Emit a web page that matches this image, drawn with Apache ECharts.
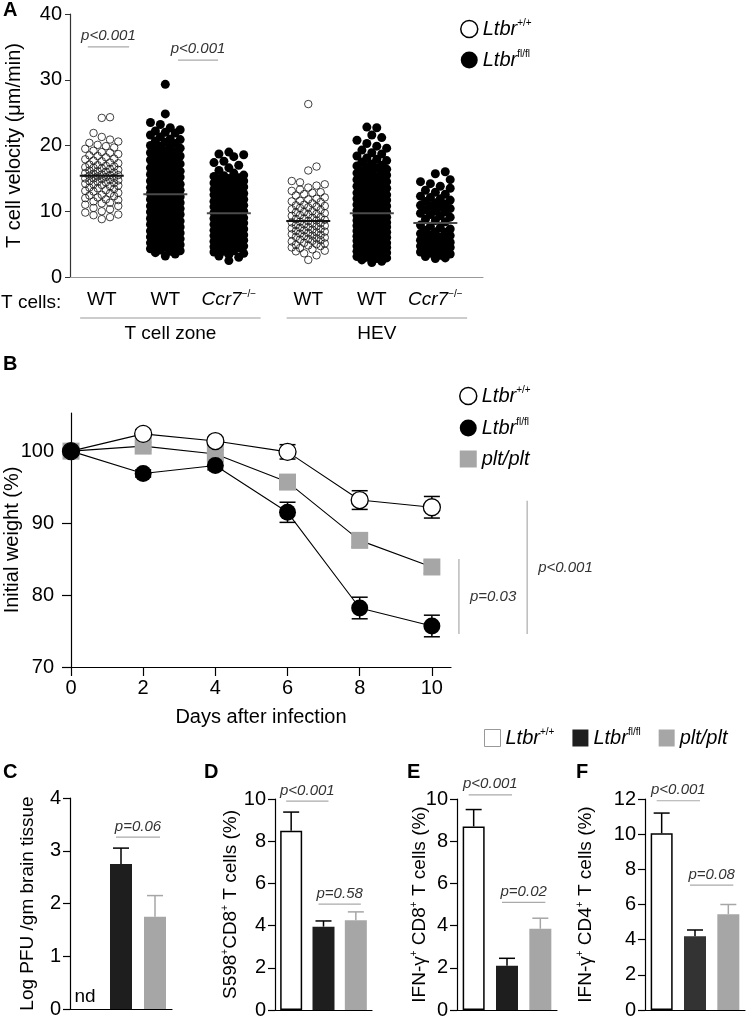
<!DOCTYPE html>
<html><head><meta charset="utf-8">
<script src="https://cdn.jsdelivr.net/npm/echarts@6/dist/echarts.min.js"></script>
<style>html,body{margin:0;padding:0;background:#fff}#c{width:747px;height:1019px}</style>
</head><body><div id="c"></div><script>
// ================= DATA =================
// ---- Panel A: T cell velocity (µm/min) ----
const velocityColumns = ['WT', 'WT', 'Ccr7', 'WT', 'WT', 'Ccr7'];
const velocityColumnGroup = [0, 0, 0, 1, 1, 1];
const velocityGroups = ['T cell zone', 'HEV'];
const velocityFilled = [false, true, true, false, true, true];
const velocityMeans = [15.4, 12.6, 9.7, 8.5, 9.7, 8.2];
const velocityTicks = [0, 10, 20, 30, 40];
const velTczWtCtrl = [24.3,24.2,21.9,21.3,20.9,20.6,20.4,20.1,19.9,19.7,19.5,19.2,19.0,18.9,18.7,18.5,18.4,18.2,18.0,17.9,17.7,17.6,17.4,17.3,17.1,17.0,16.9,16.8,16.7,16.6,16.5,16.4,16.3,16.2,16.1,16.0,15.9,15.8,15.7,15.6,15.5,15.5,15.4,15.3,15.2,15.1,15.0,15.0,14.9,14.8,14.7,14.6,14.5,14.4,14.3,14.2,14.1,14.0,13.9,13.8,13.6,13.5,13.4,13.2,13.1,13.0,12.8,12.7,12.5,12.4,12.3,12.1,12.0,11.8,11.7,11.5,11.3,11.2,11.0,10.8,10.5,10.3,10.0,9.8,9.5,9.4,9.1,8.8];
const velTczWtKo = [3.2,3.5,3.7,3.9,4.0,4.1,4.3,4.4,4.5,4.7,4.8,4.9,5.0,5.2,5.3,5.5,5.6,5.8,5.9,6.0,6.1,6.3,6.4,6.6,6.7,6.8,6.9,7.0,7.2,7.3,7.5,7.6,7.8,7.9,8.0,8.1,8.2,8.4,8.5,8.7,8.8,8.9,9.0,9.2,9.3,9.5,9.6,9.8,9.9,10.0,10.1,10.3,10.4,10.5,10.7,10.8,10.9,11.0,11.2,11.3,11.5,11.6,11.8,11.9,12.0,12.1,12.2,12.4,12.5,12.7,12.8,12.9,13.0,13.2,13.3,13.5,13.6,13.8,13.9,14.0,14.1,14.3,14.5,14.6,14.8,14.9,15.0,15.2,15.3,15.5,15.6,15.8,15.9,16.0,16.1,16.3,16.5,16.6,16.8,16.9,17.0,17.2,17.4,17.6,17.8,17.9,18.0,18.2,18.4,18.6,18.8,18.9,19.0,19.2,19.4,19.6,19.8,19.9,20.0,20.3,20.5,20.7,20.9,21.0,21.3,21.6,21.9,22.0,22.2,22.4,22.7,23.2,23.5,24.8,29.3];
const velTczCcr7Ko = [2.5,3.0,3.2,3.4,3.6,3.8,3.9,4.0,4.1,4.3,4.4,4.6,4.7,4.8,4.9,5.0,5.1,5.3,5.4,5.6,5.7,5.8,5.9,6.0,6.2,6.3,6.4,6.5,6.7,6.8,6.9,7.0,7.1,7.3,7.4,7.5,7.7,7.8,7.9,8.0,8.2,8.3,8.4,8.6,8.7,8.8,8.9,9.0,9.1,9.2,9.4,9.5,9.7,9.8,9.9,10.0,10.2,10.3,10.4,10.6,10.7,10.8,10.9,11.0,11.1,11.3,11.4,11.5,11.7,11.8,11.9,12.0,12.2,12.3,12.5,12.6,12.7,12.8,12.9,13.0,13.2,13.3,13.5,13.7,13.8,13.9,14.0,14.2,14.3,14.5,14.6,14.8,14.9,15.0,15.1,15.3,15.4,15.5,15.8,16.2,16.6,17.0,17.4,17.6,18.3,18.6,18.7,19.0];
const velHevWtCtrl = [2.6,3.3,3.6,3.9,4.0,4.2,4.4,4.5,4.7,4.8,4.9,5.0,5.1,5.2,5.4,5.5,5.6,5.7,5.8,5.9,6.0,6.1,6.2,6.3,6.4,6.5,6.6,6.7,6.8,6.9,7.0,7.1,7.2,7.3,7.4,7.5,7.6,7.7,7.8,7.9,8.0,8.1,8.2,8.3,8.4,8.5,8.6,8.7,8.8,8.9,9.0,9.1,9.3,9.4,9.5,9.6,9.7,9.8,9.9,10.0,10.2,10.3,10.5,10.6,10.7,10.8,10.9,11.0,11.2,11.4,11.5,11.6,11.8,11.9,12.1,12.4,12.6,12.8,12.9,13.1,13.3,13.6,13.9,14.1,14.4,14.6,16.2,16.8,26.3];
const velHevWtKo = [2.2,2.4,2.6,2.8,2.9,3.0,3.1,3.2,3.4,3.5,3.6,3.7,3.8,3.9,4.0,4.1,4.2,4.4,4.5,4.6,4.7,4.8,4.9,5.0,5.1,5.2,5.4,5.5,5.6,5.7,5.8,5.9,6.0,6.1,6.2,6.3,6.5,6.6,6.7,6.8,6.9,7.0,7.1,7.2,7.4,7.5,7.6,7.7,7.8,7.9,8.0,8.1,8.2,8.3,8.5,8.6,8.7,8.8,8.9,9.0,9.1,9.2,9.4,9.5,9.6,9.7,9.8,9.9,10.0,10.1,10.3,10.4,10.6,10.7,10.8,10.9,11.0,11.2,11.3,11.4,11.6,11.7,11.8,11.9,12.0,12.1,12.3,12.4,12.5,12.7,12.8,12.9,13.0,13.2,13.3,13.5,13.6,13.8,13.9,14.0,14.2,14.3,14.5,14.6,14.8,14.9,15.0,15.1,15.3,15.5,15.6,15.8,15.9,16.0,16.2,16.4,16.6,16.8,16.9,17.0,17.2,17.5,17.7,17.9,18.1,18.4,18.7,18.9,19.3,19.6,19.9,20.3,20.8,21.2,21.6,22.7,22.8];
const velHevCcr7Ko = [2.8,2.9,3.1,3.3,3.5,3.6,3.8,3.9,4.0,4.2,4.3,4.5,4.6,4.7,4.8,4.9,5.0,5.2,5.3,5.5,5.6,5.7,5.8,5.9,6.1,6.3,6.4,6.6,6.8,6.9,7.1,7.3,7.5,7.7,7.9,8.4,8.6,8.8,9.1,9.3,9.5,9.7,9.9,10.0,10.2,10.4,10.6,10.8,10.9,11.1,11.3,11.5,11.7,11.9,12.1,12.3,12.6,12.9,13.2,13.5,13.8,14.2,14.5,14.8,15.7,16.0];
const velocityValues = [velTczWtCtrl, velTczWtKo, velTczCcr7Ko, velHevWtCtrl, velHevWtKo, velHevCcr7Ko];
// p-value annotations (data coordinates of panel A)
const velocityPvals = [
  { text: 'p<0.001', x1: 0.28, x2: 0.93, y: 35.0 },
  { text: 'p<0.001', x1: 1.70, x2: 2.33, y: 33.0 }
];

// ---- Panel B: weight loss ----
const days = [0, 2, 4, 6, 8, 10];
const dayTicks = [0, 2, 4, 6, 8, 10];
const weightTicks = [70, 80, 90, 100];
const weightCtrl = [100, 102.4, 101.4, 99.9, 93.2, 92.2];
const weightCtrlErr = [0.3, 0.6, 0.5, 1.0, 1.3, 1.5];
const weightKo = [100, 96.9, 98.0, 91.5, 78.2, 75.7];
const weightKoErr = [0.3, 0.5, 0.6, 1.4, 1.5, 1.5];
const weightPlt = [100, 100.7, 99.6, 95.7, 87.6, 83.9];
const weightPltErr = [0.3, 0.5, 0.6, 0.8, 0.9, 0.9];
const weightPvals = [
  { text: 'p=0.03', x: 10.75, y1: 74.6, y2: 85.0 },
  { text: 'p<0.001', x: 12.64, y1: 74.6, y2: 93.1 }
];

// ---- Panels C-F: bars ----
const barGroups = ['Ltbr+/+', 'Ltbrfl/fl', 'plt/plt'];
const pfuMean = [null, 2.75, 1.75];
const pfuErr = [null, 0.30, 0.40];
const pfuNotDetected = [true, false, false];
const s598Mean = [8.5, 3.95, 4.25];
const s598Err = [0.88, 0.27, 0.40];
const ifnCd8Mean = [8.7, 2.1, 3.85];
const ifnCd8Err = [0.8, 0.35, 0.5];
const ifnCd4Mean = [10.05, 4.2, 5.45];
const ifnCd4Err = [1.15, 0.35, 0.55];
const pfuTicks = [0, 1, 2, 3, 4];
const pctTicks10 = [0, 2, 4, 6, 8, 10];
const pctTicks12 = [0, 2, 4, 6, 8, 10, 12];
const barPvals = [
  { panel: 0, text: 'p=0.06', a: 1, b: 2, y: 3.26 },
  { panel: 1, text: 'p<0.001', a: 0, b: 1, y: 9.9 },
  { panel: 1, text: 'p=0.58', a: 1, b: 2, y: 5.02 },
  { panel: 2, text: 'p<0.001', a: 0, b: 1, y: 10.2 },
  { panel: 2, text: 'p=0.02', a: 1, b: 2, y: 5.1 },
  { panel: 3, text: 'p<0.001', a: 0, b: 1, y: 11.9 },
  { panel: 3, text: 'p=0.08', a: 1, b: 2, y: 7.1 }
];

// ================= LAYOUT / STYLE =================
const FONT = '"Liberation Sans", Arial, Helvetica, sans-serif';
const GRIDS = [
  { left: 70, top: 14, width: 413, height: 263 },   // A
  { left: 71, top: 413, width: 380, height: 254 },  // B
  { left: 70, top: 798, width: 102, height: 211 },  // C
  { left: 275, top: 799, width: 97, height: 211 },  // D
  { left: 457, top: 799, width: 100, height: 211 }, // E
  { left: 645, top: 799, width: 100, height: 211 }  // F
].map(gr => Object.assign({ outerBoundsMode: 'none', containLabel: false }, gr));
const A_XMAX = 6.5;
const colPos = i => i + 0.5 + velocityColumnGroup[i] * 0.25;
const GRAY = '#a6a6a6';
const supRich = {
  n: { fontFamily: FONT, fontSize: 19, color: '#000', lineHeight: 22 },
  i: { fontFamily: FONT, fontSize: 19, fontStyle: 'italic', color: '#000', lineHeight: 22 },
  s: { fontFamily: FONT, fontSize: 10, color: '#000', verticalAlign: 'top', lineHeight: 10 }
};

// deterministic beeswarm layout of the values of one column
function swarm(values, center, diam, xScale, yScale, halfWidth) {
  const placed = [];
  const out = [];
  const sorted = values.slice().sort((a, b) => a - b);
  const step = diam * 0.55;
  const n = Math.floor(halfWidth / step);
  sorted.forEach((v, idx) => {
    const py = v * yScale;
    let best = 0, bestScore = -Infinity;
    const sgn = idx % 2 ? 1 : -1;
    for (let k = 0; k <= 2 * n; k++) {
      const off = k === 0 ? 0 : (k % 2 ? sgn : -sgn) * Math.ceil(k / 2) * step;
      let minD = Infinity;
      for (const p of placed) {
        if (Math.abs(p[1] - py) > diam) continue;
        const d = Math.hypot(p[0] - off, p[1] - py);
        if (d < minD) minD = d;
      }
      if (minD >= diam * 0.95) { best = off; break; }
      if (minD > bestScore + 0.01) { bestScore = minD; best = off; }
    }
    placed.push([best, py]);
    out.push([center + best / xScale, v]);
  });
  return out;
}

const gA = GRIDS[0];
const axScale = gA.width / A_XMAX, ayScale = gA.height / 40;
const openPts = [], filledPts = [];
velocityValues.forEach((vals, i) => {
  const filled = velocityFilled[i];
  const pts = swarm(vals, colPos(i), filled ? 9 : 7.5, axScale, ayScale, filled ? 17 : 17.5);
  (filled ? filledPts : openPts).push(...pts);
});
const meanData = velocityMeans.map((m, i) => [colPos(i), m, velocityFilled[i] ? 1 : 0]);

const legendNames = {
  A_open: '{i|Ltbr}{s|+/+}', A_filled: '{i|Ltbr}{s|fl/fl}',
  B_wt: '{i|Ltbr}{s|+/+}', B_fl: '{i|Ltbr}{s|fl/fl}', B_plt: '{i|plt/plt}',
  'Ltbr+/+': '{i|Ltbr}{s|+/+}', 'Ltbrfl/fl': '{i|Ltbr}{s|fl/fl}', 'plt/plt': '{i|plt/plt}'
};
const legendRich = {
  i: { fontFamily: FONT, fontSize: 20, fontStyle: 'italic', color: '#000', lineHeight: 22 },
  s: { fontFamily: FONT, fontSize: 10, color: '#000', verticalAlign: 'top', lineHeight: 10 }
};

function errBarSeries(name, data, xi, withLower, colorFn) {
  return {
    type: 'custom', name: name, xAxisIndex: xi, yAxisIndex: xi, clip: false, z: withLower ? 1 : 5,
    silent: true,
    data: data,
    renderItem: (params, api) => {
      const x = api.value(0), m = api.value(1), e = api.value(2);
      const top = api.coord([x, m + e]);
      const bot = withLower ? api.coord([x, m - e]) : api.coord([x, m]);
      const col = colorFn ? colorFn(x) : '#000';
      const st = { stroke: col, lineWidth: 1.5 };
      const ch = [
        { type: 'line', shape: { x1: top[0], y1: top[1], x2: bot[0], y2: bot[1] }, style: st },
        { type: 'line', shape: { x1: top[0] - 8, y1: top[1], x2: top[0] + 8, y2: top[1] }, style: st }
      ];
      if (withLower) ch.push({ type: 'line', shape: { x1: bot[0] - 8, y1: bot[1], x2: bot[0] + 8, y2: bot[1] }, style: st });
      return { type: 'group', children: ch };
    }
  };
}

const tickLabel = { color: '#000', fontFamily: FONT, fontSize: 20 };

// ---- axes ----
const xAxes = [
  { gridIndex: 0, type: 'value', min: 0, max: A_XMAX, splitLine: { show: false },
    axisLine: { lineStyle: { color: '#999', width: 1.2 } }, axisTick: { show: false },
    axisLabel: { customValues: velocityColumns.map((c, i) => colPos(i)), margin: 12,
      formatter: v => { const i = velocityColumns.findIndex((c, j) => Math.abs(colPos(j) - v) < 1e-6);
        return velocityColumns[i] === 'Ccr7' ? '{i|Ccr7}{s|−/−}' : '{n|' + velocityColumns[i] + '}'; },
      rich: supRich } },
  { gridIndex: 1, type: 'value', min: 0, max: 10.53, splitLine: { show: false },
    axisLine: { lineStyle: { color: '#000', width: 1.2 } },
    axisTick: { customValues: dayTicks, length: 9, lineStyle: { color: '#000', width: 1.2 } },
    axisLabel: Object.assign({ customValues: dayTicks, margin: 11 }, tickLabel),
    name: 'Days after infection', nameLocation: 'middle', nameGap: 40, nameMoveOverlap: false,
    nameTextStyle: { color: '#000', fontFamily: FONT, fontSize: 20 } }
];
const yAxes = [
  { gridIndex: 0, type: 'value', min: 0, max: 40, interval: 10, splitLine: { show: false },
    axisLine: { show: true, lineStyle: { color: '#333', width: 1.2 } },
    axisTick: { show: true, length: 5, lineStyle: { color: '#333' } },
    axisLabel: Object.assign({ margin: 8 }, tickLabel),
    name: 'T cell velocity (μm/min)', nameLocation: 'middle', nameGap: 46, nameMoveOverlap: false,
    nameTextStyle: { color: '#000', fontFamily: FONT, fontSize: 20 } },
  { gridIndex: 1, type: 'value', min: 70, max: 105.3, splitLine: { show: false },
    axisLine: { show: true, lineStyle: { color: '#000', width: 1.2 } },
    axisTick: { show: true, customValues: weightTicks, length: 9, lineStyle: { color: '#000', width: 1.2 } },
    axisLabel: Object.assign({ customValues: weightTicks, margin: 17 }, tickLabel),
    name: 'Initial weight (%)', nameLocation: 'middle', nameGap: 49, nameMoveOverlap: false,
    nameTextStyle: { color: '#000', fontFamily: FONT, fontSize: 20 } }
];
const barPanels = [
  { mean: pfuMean, err: pfuErr, max: 4, interval: 1, dark: '#1e1e1e',
    title: 'Log PFU /gm brain tissue', gap: 33 },
  { mean: s598Mean, err: s598Err, max: 10, interval: 2, dark: '#1e1e1e',
    title: '{t|S598}{s|+}{t|CD8}{s|+}{t| T cells (%)}', gap: 33 },
  { mean: ifnCd8Mean, err: ifnCd8Err, max: 10, interval: 2, dark: '#1e1e1e',
    title: '{t|IFN-γ}{s|+}{t| CD8}{s|+}{t| T cells (%)}', gap: 26 },
  { mean: ifnCd4Mean, err: ifnCd4Err, max: 12, interval: 2, dark: '#333333',
    title: '{t|IFN-γ}{s|+}{t| CD4}{s|+}{t| T cells (%)}', gap: 48 }
];
const titleRich = {
  t: { fontFamily: FONT, fontSize: 19, color: '#000', lineHeight: 22 },
  s: { fontFamily: FONT, fontSize: 10, color: '#000', verticalAlign: 'top', lineHeight: 10 }
};
barPanels.forEach((p, k) => {
  const gi = k + 2;
  xAxes.push({ gridIndex: gi, type: 'category', data: barGroups,
    axisLine: { lineStyle: { color: '#000', width: 1.2 } }, axisTick: { show: false }, axisLabel: { show: false } });
  yAxes.push({ gridIndex: gi, type: 'value', min: 0, max: p.max, interval: p.interval, splitLine: { show: false },
    axisLine: { show: true, lineStyle: { color: '#000', width: 1.2 } },
    axisTick: { show: true, length: 7, lineStyle: { color: '#000', width: 1.2 } },
    axisLabel: Object.assign({ margin: 9 }, tickLabel),
    name: p.title, nameLocation: 'middle', nameGap: p.gap, nameMoveOverlap: false,
    nameTextStyle: { color: '#000', fontFamily: FONT, fontSize: 19, rich: titleRich } });
});

// ---- series ----
const series = [
  { type: 'scatter', name: 'A_open', xAxisIndex: 0, yAxisIndex: 0, data: openPts, symbolSize: 7.5,
    itemStyle: { color: 'rgba(255,255,255,0)', borderColor: '#111', borderWidth: 0.8, opacity: 1 }, silent: true },
  { type: 'scatter', name: 'A_filled', xAxisIndex: 0, yAxisIndex: 0, data: filledPts, symbolSize: 9,
    itemStyle: { color: '#000', opacity: 1 }, silent: true },
  { type: 'custom', name: 'A_mean', xAxisIndex: 0, yAxisIndex: 0, data: meanData, z: 4, silent: true,
    renderItem: (params, api) => {
      const p = api.coord([api.value(0), api.value(1)]);
      return { type: 'line', shape: { x1: p[0] - 22, y1: p[1], x2: p[0] + 22, y2: p[1] },
        style: { stroke: api.value(2) ? '#4a4a4a' : '#111', lineWidth: 2 } };
    } },
  errBarSeries('B_err_plt', days.map((d, i) => [d, weightPlt[i], weightPltErr[i]]), 1, true),
  errBarSeries('B_err_wt', days.map((d, i) => [d, weightCtrl[i], weightCtrlErr[i]]), 1, true),
  errBarSeries('B_err_fl', days.map((d, i) => [d, weightKo[i], weightKoErr[i]]), 1, true),
  { type: 'line', name: 'B_plt', xAxisIndex: 1, yAxisIndex: 1, data: days.map((d, i) => [d, weightPlt[i]]),
    symbol: 'rect', symbolSize: 17, showAllSymbol: true, z: 3,
    itemStyle: { color: GRAY }, lineStyle: { color: '#000', width: 1.1 } },
  { type: 'line', name: 'B_wt', xAxisIndex: 1, yAxisIndex: 1, data: days.map((d, i) => [d, weightCtrl[i]]),
    symbol: 'circle', symbolSize: 17, showAllSymbol: true, z: 3,
    itemStyle: { color: '#fff', borderColor: '#000', borderWidth: 1.3 }, lineStyle: { color: '#000', width: 1.1 } },
  { type: 'line', name: 'B_fl', xAxisIndex: 1, yAxisIndex: 1, data: days.map((d, i) => [d, weightKo[i]]),
    symbol: 'circle', symbolSize: 17, showAllSymbol: true, z: 3,
    itemStyle: { color: '#000' }, lineStyle: { color: '#000', width: 1.1 } }
];
barPanels.forEach((p, k) => {
  const ai = k + 2;
  const styles = [
    { color: '#fff', borderColor: '#000', borderWidth: 1.5 },
    { color: p.dark },
    { color: GRAY }
  ];
  barGroups.forEach((g, j) => {
    series.push({ type: 'bar', name: g, xAxisIndex: ai, yAxisIndex: ai, stack: 'panel' + k, barWidth: 22,
      silent: true, itemStyle: styles[j],
      data: barGroups.map((h, m) => (m === j ? p.mean[m] : null)) });
  });
  series.push(errBarSeries('err' + k,
    p.mean.map((m, j) => (m == null ? null : [j, m, p.err[j]])).filter(d => d), ai, false,
    x => (x === 2 ? GRAY : '#000')));
});

const legendBase = {
  selectedMode: false, formatter: n => legendNames[n],
  textStyle: { rich: legendRich, fontFamily: FONT, fontSize: 20 }
};
const option = {
  animation: false,
  backgroundColor: '#fff',
  textStyle: { fontFamily: FONT },
  grid: GRIDS,
  xAxis: xAxes,
  yAxis: yAxes,
  legend: [
    Object.assign({ orient: 'vertical', left: 455, top: 13, itemWidth: 17, itemHeight: 17, itemGap: 10, itemTextGap: 11,
      data: [{ name: 'A_open', icon: 'circle', itemStyle: { color: '#fff', borderColor: '#000', borderWidth: 1.5, opacity: 1 } },
             { name: 'A_filled', icon: 'circle', itemStyle: { color: '#000', opacity: 1 } }] }, legendBase),
    Object.assign({ orient: 'vertical', left: 454, top: 380, itemWidth: 17, itemHeight: 17, itemGap: 11, itemTextGap: 11,
      data: [{ name: 'B_wt', icon: 'circle', itemStyle: { color: '#fff', borderColor: '#000', borderWidth: 1.5 } },
             { name: 'B_fl', icon: 'circle', itemStyle: { color: '#000' } },
             { name: 'B_plt', icon: 'rect', itemStyle: { color: GRAY } }] }, legendBase),
    Object.assign({ orient: 'horizontal', left: 479, top: 722, itemWidth: 16, itemHeight: 17, itemGap: 18, itemTextGap: 10,
      data: [{ name: 'Ltbr+/+', icon: 'rect', itemStyle: { color: '#fff', borderColor: '#999', borderWidth: 1 } },
             { name: 'Ltbrfl/fl', icon: 'rect', itemStyle: { color: '#1e1e1e' } },
             { name: 'plt/plt', icon: 'rect', itemStyle: { color: GRAY } }] }, legendBase)
  ],
  series: series
};

const chart = echarts.init(document.getElementById('c'), null, { renderer: 'canvas' });
chart.setOption(option);

// ---- annotations (anchored through the axes) ----
const g = [];
const pStyle = { fill: '#333', fontFamily: FONT, fontSize: 15, fontStyle: 'italic' };
const lineStyle = { stroke: '#aaa', lineWidth: 1.2 };
[['A', 3, 11], ['B', 3, 365], ['C', 3, 773], ['D', 204, 773], ['E', 407, 773], ['F', 576, 773]].forEach(l => {
  g.push({ type: 'text', left: l[1], top: l[2] - 11, style: { text: l[0], fill: '#000', fontFamily: FONT, fontSize: 20, fontWeight: 'bold' } });
});
velocityPvals.forEach(p => {
  const a = chart.convertToPixel({ gridIndex: 0 }, [p.x1, p.y]);
  const b = chart.convertToPixel({ gridIndex: 0 }, [p.x2, p.y]);
  g.push({ type: 'line', shape: { x1: a[0], y1: a[1], x2: b[0], y2: b[1] }, style: lineStyle });
  g.push({ type: 'text', x: (a[0] + b[0]) / 2, y: a[1] - 4, style: Object.assign({ text: p.text, textAlign: 'center', textVerticalAlign: 'bottom' }, pStyle) });
});
// category group annotations under panel A
const aBottom = gA.top + gA.height;
g.push({ type: 'text', x: 1, y: aBottom + 26, style: { text: 'T cells:', fill: '#000', fontFamily: FONT, fontSize: 19, textVerticalAlign: 'middle' } });
velocityGroups.forEach((name, gi) => {
  const idx = velocityColumnGroup.map((v, i) => (v === gi ? i : -1)).filter(i => i >= 0);
  const x1 = chart.convertToPixel({ gridIndex: 0 }, [colPos(idx[0]) - 0.34, 0])[0];
  const x2 = chart.convertToPixel({ gridIndex: 0 }, [colPos(idx[idx.length - 1]) + 0.5, 0])[0];
  g.push({ type: 'line', shape: { x1: x1, y1: aBottom + 41, x2: x2, y2: aBottom + 41 }, style: { stroke: '#999', lineWidth: 1 } });
  g.push({ type: 'text', x: (x1 + x2) / 2, y: aBottom + 57, style: { text: name, fill: '#000', fontFamily: FONT, fontSize: 19, textAlign: 'center', textVerticalAlign: 'middle' } });
});
weightPvals.forEach(p => {
  const a = chart.convertToPixel({ gridIndex: 1 }, [p.x, p.y1]);
  const b = chart.convertToPixel({ gridIndex: 1 }, [p.x, p.y2]);
  g.push({ type: 'line', shape: { x1: a[0], y1: a[1], x2: b[0], y2: b[1] }, style: lineStyle });
  g.push({ type: 'text', x: a[0] + 11, y: (a[1] + b[1]) / 2, style: Object.assign({ text: p.text, textAlign: 'left', textVerticalAlign: 'middle' }, pStyle) });
});
barPvals.forEach(p => {
  const ai = p.panel + 2;
  const xa = chart.convertToPixel({ xAxisIndex: ai }, p.a);
  const xb = chart.convertToPixel({ xAxisIndex: ai }, p.b);
  const y = chart.convertToPixel({ yAxisIndex: ai }, p.y);
  g.push({ type: 'line', shape: { x1: xa - 5, y1: y, x2: xb + 5, y2: y }, style: lineStyle });
  g.push({ type: 'text', x: (xa + xb) / 2, y: y - 3, style: Object.assign({ text: p.text, textAlign: 'center', textVerticalAlign: 'bottom' }, pStyle) });
});
pfuNotDetected.forEach((nd, j) => {
  if (!nd) return;
  const x = chart.convertToPixel({ xAxisIndex: 2 }, j);
  const y = chart.convertToPixel({ yAxisIndex: 2 }, 0);
  g.push({ type: 'text', x: x - 2, y: y - 3, style: { text: 'nd', fill: '#000', fontFamily: FONT, fontSize: 19, textAlign: 'center', textVerticalAlign: 'bottom' } });
});
chart.setOption({ graphic: g });
</script></body></html>
